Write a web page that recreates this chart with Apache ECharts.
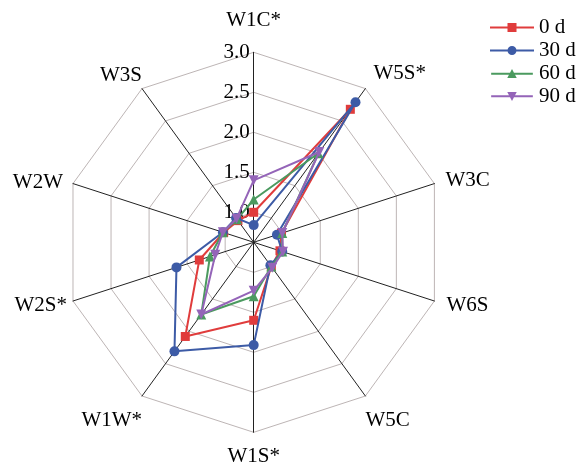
<!DOCTYPE html>
<html>
<head>
<meta charset="utf-8">
<script src="https://cdn.jsdelivr.net/npm/echarts@6/dist/echarts.min.js"></script>
<style>html,body{margin:0;padding:0;background:#fff;}#c{width:578px;height:465px;}</style>
</head>
<body>
<div id="c"></div>
<script>
// Categories in clockwise order starting at the top
var categories = ['W1C*', 'W5S*', 'W3C', 'W6S', 'W5C', 'W1S*', 'W1W*', 'W2S*', 'W2W', 'W3S'];
var seriesNames = ['0 d', '30 d', '60 d', '90 d'];
var values0d  = [1.00, 2.68, 0.99, 0.97, 1.00, 1.60, 2.08, 1.34, 1.02, 0.96];
var values30d = [0.84, 2.79, 0.93, 1.00, 0.98, 1.91, 2.31, 1.64, 1.03, 1.00];
var values60d = [1.16, 2.00, 1.00, 1.00, 1.00, 1.30, 1.74, 1.20, 1.03, 0.98];
var values90d = [1.40, 2.02, 1.00, 1.01, 1.02, 1.23, 1.74, 1.13, 1.03, 0.99];
var tickValues = [1.0, 1.5, 2.0, 2.5, 3.0];
var axisMin = 0.625;
var axisMax = 3.0;

var colors = ['#e03c3c', '#3d5ba6', '#4b9a5f', '#9464b8'];
var FONT = 'Liberation Serif';

// ECharts radar runs counter-clockwise: reorder so the picture runs clockwise
function reorder(arr) {
  var out = [arr[0]];
  for (var i = arr.length - 1; i >= 1; i--) out.push(arr[i]);
  return out;
}

// per-label padding to match the placement of the names
var namePad = {
  'W1C*': [0, 0, 21, 0],
  'W5S*': [0, 0, 31, 8],
  'W3C':  [0, 0, 7, 11],
  'W6S':  [8, 0, 0, 12],
  'W5C':  [48, 0, 0, 0],
  'W1S*': [14, 0, 0, 0],
  'W1W*': [48, 0, 0, 0],
  'W2S*': [8, 6, 0, 0],
  'W2W':  [0, 10, 3, 0],
  'W3S':  [0, 0, 27, 0]
};
var rich = {};
categories.forEach(function (c, i) {
  rich['n' + i] = {padding: namePad[c], fontFamily: FONT, fontSize: 21, color: '#000'};
});

var indicators = reorder(categories).map(function (c, i) {
  var ind = {name: c, min: axisMin, max: axisMax};
  if (i === 0) {
    ind.axisLabel = {
      show: true, customValues: tickValues, margin: 4,
      formatter: function (v) { return Number(v).toFixed(1); },
      fontFamily: FONT, fontSize: 21, color: '#000'
    };
  }
  return ind;
});

var lineBar = 'M0,4L44,4L44,6L0,6Z ';
var icons = [
  'path://' + lineBar + 'M17.5,0.5L26.5,0.5L26.5,9.5L17.5,9.5Z',
  'path://' + lineBar + 'M22,0.5A4.5,4.5,0,1,1,22,9.5A4.5,4.5,0,1,1,22,0.5Z',
  'path://' + lineBar + 'M22,0L27,9.5L17,9.5Z',
  'path://M0,3.5L44,3.5L44,5.5L0,5.5Z M17,0L27,0L22,9.5Z'
];
var symbols = ['rect', 'circle', 'triangle', 'path://M0,0L10,0L5,9Z'];
var symbolSizes = [9, 10, 10, 10];
var allValues = [values0d, values30d, values60d, values90d];

var chart = echarts.init(document.getElementById('c'), null, {renderer: 'canvas'});
chart.setOption({
  animation: false,
  backgroundColor: '#fff',
  legend: {
    orient: 'vertical', left: 485, top: 12, padding: 5,
    itemWidth: 44, itemHeight: 9, itemGap: 2,
    textStyle: {fontFamily: FONT, fontSize: 21, color: '#000'},
    itemStyle: {borderWidth: 0},
    data: seriesNames.map(function (n, i) { return {name: n, icon: icons[i]}; })
  },
  radar: {
    center: [253.7, 242.3],
    radius: 190,
    startAngle: 90,
    shape: 'polygon',
    splitNumber: 5,
    indicator: indicators,
    axisLine: {lineStyle: {color: '#222', width: 1}},
    splitLine: {lineStyle: {color: '#bdb5b5', width: 1}},
    splitArea: {show: false},
    axisTick: {show: false, customValues: tickValues},
    axisLabel: {show: false, customValues: tickValues},
    axisNameGap: 0,
    nameGap: 0,
    axisName: {
      color: '#000', fontFamily: FONT, fontSize: 21,
      formatter: function (name) {
        var idx = categories.indexOf(name);
        return '{n' + idx + '|' + name + '}';
      },
      rich: rich
    }
  },
  series: seriesNames.map(function (n, i) {
    return {
      type: 'radar',
      name: n,
      symbol: symbols[i],
      symbolSize: symbolSizes[i],
      z: 2 + i,
      lineStyle: {color: colors[i], width: 2},
      itemStyle: {color: colors[i]},
      data: [{name: n, value: reorder(allValues[i])}]
    };
  })
});
</script>
</body>
</html>
